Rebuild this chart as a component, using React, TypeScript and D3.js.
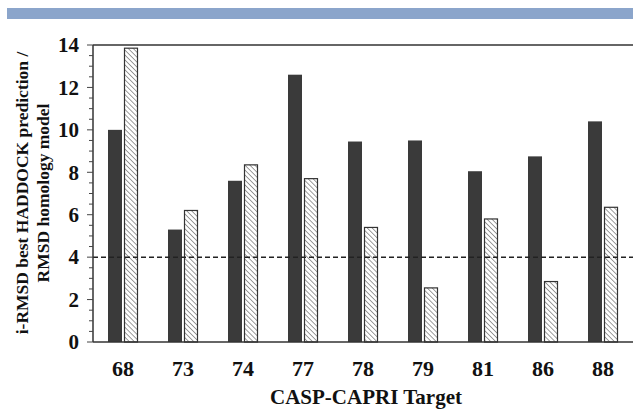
import React, { useRef, useEffect } from "react";
import * as d3 from "d3";

const targets = ["68", "73", "74", "77", "78", "79", "81", "86", "88"];
const haddock = [10.0, 5.3, 7.6, 12.6, 9.45, 9.5, 8.05, 8.75, 10.4];
const homology = [13.85, 6.2, 8.35, 7.7, 5.4, 2.55, 5.8, 2.85, 6.35];
const yTicks = [0, 2, 4, 6, 8, 10, 12, 14];
const threshold = 4;

export default function App() {
  const ref = useRef<SVGSVGElement>(null);
  const width = 633;
  const height = 410;

  useEffect(() => {
    const svg = d3.select(ref.current);
    svg.selectAll("*").remove();

    const left = 93;
    const right = 633;
    const top = 45;
    const bottom = 342;
    const font = "'Liberation Serif', 'Times New Roman', serif";

    // blue band across the top
    svg.append("rect")
      .attr("x", 7).attr("y", 8)
      .attr("width", width - 7).attr("height", 11)
      .attr("fill", "#8ba5cb");

    const defs = svg.append("defs");
    const pat = defs.append("pattern")
      .attr("id", "hatch")
      .attr("patternUnits", "userSpaceOnUse")
      .attr("width", 3.5).attr("height", 3.5)
      .attr("patternTransform", "rotate(-45)");
    pat.append("rect").attr("width", 3.5).attr("height", 3.5).attr("fill", "#fff");
    pat.append("line")
      .attr("x1", 0).attr("y1", 0).attr("x2", 0).attr("y2", 3.5)
      .attr("stroke", "#6a6a6a").attr("stroke-width", 1.3);

    const x = d3.scaleBand<string>().domain(targets).range([left, right]);
    const y = d3.scaleLinear().domain([0, 14]).range([bottom, top]);

    // frame
    svg.append("line")
      .attr("x1", left).attr("x2", right).attr("y1", top).attr("y2", top)
      .attr("stroke", "#333").attr("stroke-width", 1.5);

    // bars
    const bw = 14;
    const g = svg.append("g");
    targets.forEach((t, i) => {
      const c = x(t)! + x.bandwidth() / 2;
      g.append("rect")
        .attr("x", c - 1 - bw).attr("y", y(haddock[i]))
        .attr("width", bw).attr("height", y(0) - y(haddock[i]))
        .attr("fill", "#3a3a3a");
      g.append("rect")
        .attr("x", c + 1.5).attr("y", y(homology[i]))
        .attr("width", bw - 1).attr("height", y(0) - y(homology[i]))
        .attr("fill", "url(#hatch)")
        .attr("stroke", "#333").attr("stroke-width", 1.2);
    });

    // dashed threshold line
    svg.append("line")
      .attr("x1", left).attr("x2", right)
      .attr("y1", y(threshold)).attr("y2", y(threshold))
      .attr("stroke", "#222").attr("stroke-width", 1.5)
      .attr("stroke-dasharray", "5,3");

    // y axis
    const yAxis = svg.append("g").attr("transform", `translate(${left},0)`);
    yAxis.append("line").attr("y1", top).attr("y2", bottom).attr("stroke", "#333").attr("stroke-width", 1.5);
    d3.range(0, 14.01, 0.5).forEach(v => {
      const major = v % 2 === 0;
      yAxis.append("line")
        .attr("x1", major ? -6 : -4).attr("x2", 0)
        .attr("y1", y(v)).attr("y2", y(v))
        .attr("stroke", "#444").attr("stroke-width", 1);
    });
    yAxis.selectAll("text.tick")
      .data(yTicks)
      .enter()
      .append("text")
      .attr("x", -14).attr("y", d => y(d))
      .attr("dy", "0.35em")
      .attr("text-anchor", "end")
      .attr("font-family", font).attr("font-weight", "bold").attr("font-size", 21)
      .attr("fill", "#111")
      .text(d => d);

    // x axis
    svg.append("line")
      .attr("x1", left).attr("x2", right).attr("y1", bottom).attr("y2", bottom)
      .attr("stroke", "#333").attr("stroke-width", 1.5);
    svg.selectAll("text.xl")
      .data(targets)
      .enter()
      .append("text")
      .attr("x", d => x(d)! + x.bandwidth() / 2)
      .attr("y", 376)
      .attr("text-anchor", "middle")
      .attr("font-family", font).attr("font-weight", "bold").attr("font-size", 22)
      .attr("fill", "#111")
      .text(d => d);

    svg.append("text")
      .attr("x", 366).attr("y", 404)
      .attr("text-anchor", "middle")
      .attr("font-family", font).attr("font-weight", "bold").attr("font-size", 21)
      .attr("fill", "#111")
      .text("CASP-CAPRI Target");

    // y title
    const yt = svg.append("text")
      .attr("transform", "translate(0,193) rotate(-90)")
      .attr("text-anchor", "middle")
      .attr("font-family", font).attr("font-weight", "bold").attr("font-size", 17.5)
      .attr("fill", "#111");
    yt.append("tspan").attr("x", 0).attr("y", 28).text("i-RMSD best HADDOCK prediction /");
    yt.append("tspan").attr("x", 0).attr("y", 49).text("RMSD homology model");
  }, []);

  return (
    <svg
      ref={ref}
      width={width}
      height={height}
      style={{ position: "absolute", left: 0, top: 0, background: "#fff" }}
    />
  );
}
